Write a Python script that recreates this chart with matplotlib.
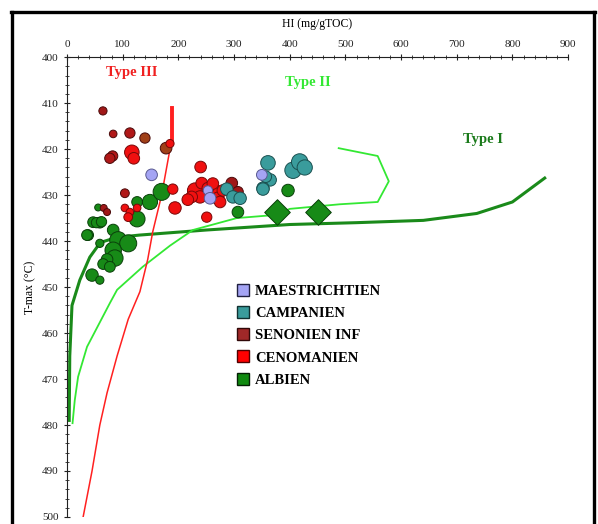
import matplotlib
matplotlib.use('Agg')
import matplotlib.pyplot as plt
from matplotlib.lines import Line2D
from matplotlib.ticker import MultipleLocator

plt.rcParams['font.family'] = ['Liberation Serif', 'DejaVu Serif']

# courbes d'evolution (HI, Tmax)
type1_hi = [4, 5, 9, 23, 41, 60, 90, 130, 250, 400, 520, 640, 736, 800, 858]
type1_t = [479, 465, 454, 448.5, 443.5, 440.3, 439.2, 438.7, 437.6, 436.4, 436, 435.5, 434, 431.5, 426.3]

type2_hi = [488, 558, 578, 558, 490, 400, 377, 305, 226, 185, 136, 90, 77, 36, 20, 14, 10]
type2_t = [419.8, 421.5, 427, 431.5, 432, 433, 434.3, 435, 437.6, 441, 445.6, 450.6, 453.5, 463, 469.5, 474.6, 479.6]

type3_hi = [188, 188, 185, 170, 154, 145, 131, 110, 90, 72, 59, 45, 29]
type3_t = [411, 419, 420, 430, 438, 444, 451, 457, 465, 473, 480, 490, 500]

# echantillons : HI, Tmax, taille
maes_hi = [152, 253, 257, 350]
maes_t = [425.6, 429, 430.7, 425.6]
maes_s = [70, 45, 70, 60]

camp_hi = [287, 298, 311, 361, 365, 352, 357, 352, 406, 418, 427]
camp_t = [428.7, 430.4, 430.7, 423, 426.7, 428.5, 426, 428.7, 424.6, 422.8, 424]
camp_s = [80, 80, 80, 110, 80, 80, 70, 80, 140, 140, 120]

seno_hi = [64.6, 83, 113, 140, 178, 82, 77, 104, 66, 72, 296, 307]
seno_t = [411.7, 416.7, 416.5, 417.6, 419.8, 421.5, 422, 429.6, 432.8, 433.7, 427.4, 429.3]
seno_s = [35, 30, 55, 55, 70, 55, 55, 40, 25, 25, 70, 60]
seno_c = ['#a01818', '#b01818', '#b01818', '#a04018', '#a04018', '#b01818', '#b01818',
          '#b01818', '#a01818', '#a01818', '#a01818', '#a01818']

ceno_hi = [116.5, 120, 185, 104, 113, 126, 110, 190, 194, 240, 251,
           230, 242, 239, 266, 271, 280, 253, 224, 217, 262, 275]
ceno_t = [420.7, 422, 418.8, 432.8, 433.7, 432.8, 434.8, 428.7, 432.8, 423.9, 434.8,
          429, 427.4, 430.4, 429, 430.7, 429, 428.5, 430.4, 431, 427.5, 431.5]
ceno_s = [110, 70, 35, 30, 30, 30, 40, 55, 80, 70, 55,
          120, 70, 80, 80, 80, 70, 70, 70, 70, 70, 70]

albi_hi = [126, 149, 170, 126, 56, 47, 59, 38, 53, 62, 36, 59, 83, 92, 110, 83, 86, 72, 65,
           77, 45, 59, 307, 397]
albi_t = [431.5, 431.5, 429.3, 435.2, 432.7, 435.9, 436, 438.7, 436, 435.8, 438.7, 440.5,
          437.6, 439.8, 440.5, 442, 443.7, 444, 445, 445.6, 447.4, 448.5, 433.7, 429]
albi_s = [60, 120, 150, 130, 25, 60, 60, 60, 55, 55, 60, 35, 70, 150, 150, 140, 140, 70,
          60, 60, 80, 35, 70, 80]

diam_hi = [377, 451]
diam_t = [433.7, 433.7]

fig = plt.figure(figsize=(5.98, 5.24), dpi=100)
ax = fig.add_axes([0.112, 0.0134, 0.838, 0.8776])

ax.plot(type1_hi, type1_t, color='#1a8a1a', lw=2.2, zorder=2)
ax.plot(type2_hi, type2_t, color='#33e833', lw=1.3, zorder=2)
ax.plot(type3_hi, type3_t, color='#ff2020', lw=1.1, zorder=2)
ax.plot(type3_hi[:2], type3_t[:2], color='#ff2020', lw=2.8, zorder=2)

ax.scatter(albi_hi, albi_t, s=albi_s, c='#178a17', edgecolors='#0a400a', linewidths=0.7, zorder=3)
ax.scatter(diam_hi, diam_t, s=170, marker='D', c='#178a17', edgecolors='#0a400a', linewidths=0.7, zorder=3)
ax.scatter(seno_hi, seno_t, s=seno_s, c=seno_c, edgecolors='#4a0a0a', linewidths=0.7, zorder=4)
ax.scatter(ceno_hi, ceno_t, s=ceno_s, c='#f01010', edgecolors='#7a0808', linewidths=0.7, zorder=4)
ax.scatter(camp_hi, camp_t, s=camp_s, c='#3a9c9c', edgecolors='#1a5050', linewidths=0.7, zorder=4)
ax.scatter(maes_hi, maes_t, s=maes_s, c='#a4a4f4', edgecolors='#5a5a90', linewidths=0.7, zorder=5)

ax.text(117, 403.3, 'Type III', color='#f02020', fontsize=10.5, fontweight='bold', ha='center', va='center')
ax.text(432, 405.6, 'Type II', color='#33e833', fontsize=10.5, fontweight='bold', ha='center', va='center')
ax.text(747, 418, 'Type I', color='#1a7a1a', fontsize=10.5, fontweight='bold', ha='center', va='center')

ax.set_xlim(0, 900)
ax.set_ylim(500, 400)
ax.xaxis.tick_top()
ax.xaxis.set_label_position('top')
ax.xaxis.set_major_locator(MultipleLocator(100))
ax.xaxis.set_minor_locator(MultipleLocator(20))
ax.yaxis.set_major_locator(MultipleLocator(10))
ax.yaxis.set_minor_locator(MultipleLocator(2))
ax.tick_params(which='major', direction='inout', length=5, width=0.8, labelsize=8, colors='#222222')
ax.tick_params(which='minor', direction='inout', length=2.5, width=0.6, colors='#222222')
ax.set_xlabel('HI (mg/gTOC)', fontsize=8.5, labelpad=9)
ax.set_ylabel('T-max (°C)', fontsize=8.5, labelpad=4)
for side in ['right', 'bottom']:
    ax.spines[side].set_visible(False)
for side in ['top', 'left']:
    ax.spines[side].set_linewidth(0.8)
    ax.spines[side].set_color('#222222')

handles = [
    Line2D([], [], marker='s', ls='', markersize=8, mfc='#a4a4f4', mec='#202040', label='MAESTRICHTIEN'),
    Line2D([], [], marker='s', ls='', markersize=8, mfc='#3a9c9c', mec='#103030', label='CAMPANIEN'),
    Line2D([], [], marker='s', ls='', markersize=8, mfc='#a02828', mec='#300808', label='SENONIEN INF'),
    Line2D([], [], marker='s', ls='', markersize=8, mfc='#ff0000', mec='#500000', label='CENOMANIEN'),
    Line2D([], [], marker='s', ls='', markersize=8, mfc='#108a10', mec='#052005', label='ALBIEN'),
]
ax.legend(handles=handles, loc='upper left', bbox_to_anchor=(0.385, 0.468), bbox_transform=fig.transFigure,
          frameon=False, prop={'size': 10.5, 'weight': 'bold'}, handletextpad=0.4, labelspacing=0.62,
          borderaxespad=0, handlelength=0.9)

# cadre noir autour de la figure
fig.add_artist(Line2D([0.019, 0.995], [0.977, 0.977], color='black', lw=2.4, transform=fig.transFigure))
fig.add_artist(Line2D([0.02, 0.02], [0.977, 0.0], color='black', lw=2.4, transform=fig.transFigure))
fig.add_artist(Line2D([0.994, 0.994], [0.977, 0.0], color='black', lw=2.4, transform=fig.transFigure))

fig.savefig('out.png', dpi=100)
